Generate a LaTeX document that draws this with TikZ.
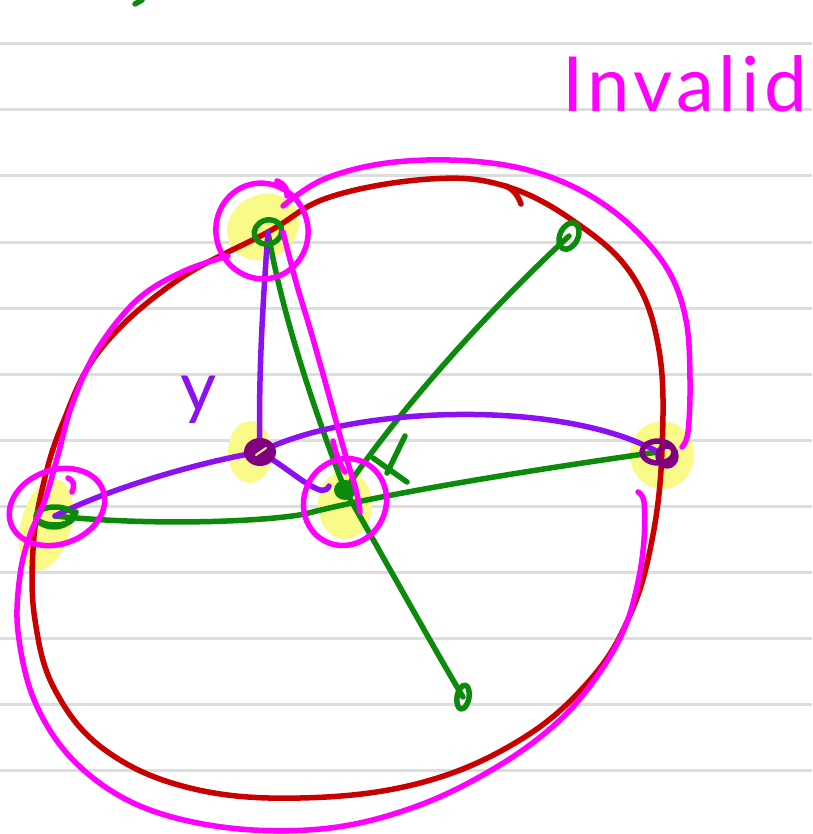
\documentclass[tikz,border=0pt]{standalone}
\usepackage{fontspec}
\setmainfont{Lato}
\definecolor{gr}{HTML}{0B8A0B}
\definecolor{rd}{HTML}{C80000}
\definecolor{pu}{HTML}{8C10F0}
\definecolor{dpu}{HTML}{7F0080}
\definecolor{mg}{HTML}{FF00FF}
\definecolor{hl}{HTML}{FAFA88}
\definecolor{ruleline}{HTML}{DDDDDD}
\tikzset{
  pen/.style={line width=5.5pt,line cap=round,line join=round},
  greenpen/.style={pen,draw=gr},
  redpen/.style={pen,draw=rd},
  purplepen/.style={pen,draw=pu},
  darkpen/.style={pen,draw=dpu},
  magpen/.style={pen,draw=mg},
  glow/.style={fill=hl},
  rulepen/.style={line width=3pt,draw=ruleline},
}
\begin{document}
\begin{tikzpicture}[x=1pt,y=-1pt]
\useasboundingbox (0,0) rectangle (812,834);
\fill[white] (0,0) rectangle (812,834);
% ruled paper
\foreach \k in {0,...,11} {\draw[rulepen] (0,44+66*\k) -- (812,44+66*\k);}
% vertices
\coordinate (A) at (268,232);
\coordinate (B) at (55,516);
\coordinate (Y) at (260,452);
\coordinate (C) at (345,490);
\coordinate (D) at (658,452);
\coordinate (E) at (569,236);
\coordinate (F) at (463,697);
% yellow highlights
\fill[glow,rotate around={30:(263,227)}] (263,227) ellipse [x radius=37,y radius=32];
\fill[glow,rotate around={-15:(46,525)}] (46,525) ellipse [x radius=25,y radius=47];
\fill[glow] (250,452) ellipse [x radius=22,y radius=31];
\fill[glow] (345,505) ellipse [x radius=27,y radius=34];
\fill[glow] (662,455) ellipse [x radius=32,y radius=34];
% red cycle
\draw[redpen] plot[smooth cycle,tension=0.65] coordinates {(268,232) (330,197) (430,179) (505,186) (575,222) (632,275) (659,350) (662,450) (652,540) (630,615) (590,680) (520,740) (420,783) (300,798) (190,788) (105,750) (55,690) (35,620) (33,550) (42,490) (62,425) (100,350) (175,282)};
\draw[redpen] (506,186) .. controls (514,190) and (518,196) .. (521,204);
% green edges
\draw[greenpen] (A) .. controls (283,320) and (318,420) .. (C);
\draw[greenpen] (C) .. controls (392,420) and (480,318) .. (E);
\draw[greenpen] (C) .. controls (385,560) and (432,645) .. (F);
\draw[greenpen] (B) .. controls (150,526) and (262,522) .. (305,514) .. controls (345,503) and (460,480) .. (D);
\draw[greenpen] (405,436) -- (387,473);
\draw[greenpen] (373,458) -- (407,482);
\draw[greenpen] (135,4) -- (142,0);
% purple edges
\draw[purplepen] (A) .. controls (263,300) and (258,380) .. (Y);
\draw[purplepen] (Y) .. controls (200,462) and (110,488) .. (B);
\draw[purplepen] (Y) .. controls (350,406) and (560,398) .. (D);
\draw[purplepen] (Y) .. controls (285,466) and (303,484) .. (320,490) .. controls (325,491) and (328,489) .. (329,486);
% vertex marks
\draw[greenpen,rotate around={20:(A)}] (A) ellipse [x radius=14,y radius=12];
\draw[greenpen,rotate around={-25:(E)}] (E) ellipse [x radius=9,y radius=14];
\draw[greenpen,rotate around={-10:(F)}] (F) ellipse [x radius=6,y radius=12];
\draw[greenpen] (B) ellipse [x radius=19,y radius=9];
\draw[greenpen] (36,520) .. controls (50,532) and (70,528) .. (76,512);
\fill[gr] (C) ellipse [x radius=11,y radius=10];
\fill[dpu] (Y) ellipse [x radius=16,y radius=14];
\draw[line width=2pt,draw=hl,line cap=round] (256,455) -- (266,448);
\draw[darkpen] (D) ellipse [x radius=16,y radius=11];
\draw[darkpen] (667,456) ellipse [x radius=9,y radius=10];
% magenta highlight
\draw[magpen,rotate around={15:(262,231)}] (262,231) ellipse [x radius=46,y radius=48];
\draw[magpen] (277,181) .. controls (285,184) and (288,190) .. (287,196);
\draw[magpen,rotate around={20:(57,507)}] (57,507) ellipse [x radius=49,y radius=37];
\draw[magpen] (68,478) .. controls (74,480) and (75,486) .. (72,492);
\draw[magpen,rotate around={-25:(345,502)}] (345,502) ellipse [x radius=41,y radius=44];
\draw[magpen] (333,441) .. controls (336,455) and (340,465) .. (345,472);
\draw[magpen] plot[smooth,tension=0.6] coordinates {(283,206) (322,180) (380,164) (450,160) (520,168) (580,190) (630,225) (668,270) (686,320) (690,380) (688,432) (682,447)};
\draw[magpen] plot[smooth,tension=0.6] coordinates {(283,232) (296,282) (311,332) (328,392) (344,450) (356,490) (360,512)};
\draw[magpen] plot[smooth,tension=0.6] coordinates {(638,492) (644,502) (644,540) (638,582) (625,627) (600,672) (560,720) (500,765) (420,805) (330,828) (230,828) (140,806) (75,762) (35,702) (18,632) (20,575) (30,535) (45,500) (58,455) (72,405) (97,350) (137,300) (182,272) (228,256)};
% labels
\node[text=pu,font=\fontsize{70}{72}\selectfont,inner sep=0pt] (ylabel) at (199,400) {y};
\node[text=mg,font=\fontsize{76}{78}\selectfont\addfontfeature{LetterSpace=6},inner sep=0pt,anchor=base west] (invalid) at (562,112) {Invalid};
\end{tikzpicture}
\end{document}
